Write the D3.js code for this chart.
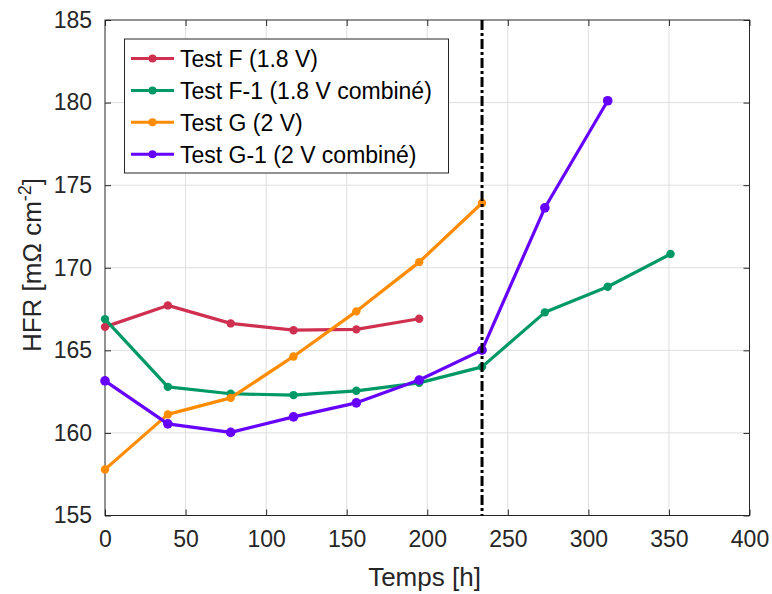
<!DOCTYPE html>
<html><head><meta charset="utf-8">
<script src="https://cdn.jsdelivr.net/npm/d3@7"></script>
<style>body{margin:0;background:#fff}svg{display:block}text{font-family:"Liberation Sans",Arial,sans-serif}</style>
</head><body>
<svg id="c" width="772" height="594"></svg>
<script>
const hours = [0, 39, 78, 117, 156, 195, 234, 273, 312, 351];
const testF   = [166.42, 167.72, 166.63, 166.22, 166.27, 166.91];
const testF1  = [166.89, 162.79, 162.37, 162.29, 162.55, 163.03, 164.0, 167.30, 168.85, 170.83];
const testG   = [157.79, 161.12, 162.12, 164.63, 167.36, 170.34, 173.92];
const testG1  = [163.15, 160.55, 160.03, 160.97, 161.82, 163.2, 165.01, 173.63, 180.11];
const seriesNames = ["Test F (1.8 V)", "Test F-1 (1.8 V combiné)", "Test G (2 V)", "Test G-1 (2 V combiné)"];
const seriesColors = ["#d0304f", "#009966", "#ff8c00", "#6600ff"];
const xTicks = [0, 50, 100, 150, 200, 250, 300, 350, 400];
const yTicks = [155, 160, 165, 170, 175, 180, 185];
const vLine = 234;

const svg = d3.select("#c");
const L = 105, R = 749.5, T = 20, B = 515.5;
const x = d3.scaleLinear().domain([0, 400]).range([L, R]);
const y = d3.scaleLinear().domain([155, 185]).range([B, T]);
const axisCol = "#262626";

// grid
svg.append("g").selectAll("line").data(xTicks.slice(1, -1)).join("line")
  .attr("x1", d => x(d)).attr("x2", d => x(d)).attr("y1", T).attr("y2", B)
  .attr("stroke", "#dedede").attr("stroke-width", 1);
svg.append("g").selectAll("line").data(yTicks.slice(1, -1)).join("line")
  .attr("y1", d => y(d)).attr("y2", d => y(d)).attr("x1", L).attr("x2", R)
  .attr("stroke", "#dedede").attr("stroke-width", 1);

// axes
const ax = (g, a) => { g.call(a); g.select(".domain").remove(); g.selectAll(".tick line").attr("stroke", axisCol); };
svg.append("g").attr("transform", `translate(0,${B})`)
  .call(g => ax(g, d3.axisBottom(x).tickValues(xTicks).tickSizeInner(-6).tickSizeOuter(0).tickPadding(15)))
  .selectAll("text").attr("font-size", 23).attr("fill", axisCol);
svg.append("g").attr("transform", `translate(0,${T})`)
  .call(g => ax(g, d3.axisTop(x).tickValues(xTicks).tickSizeInner(-6).tickSizeOuter(0)))
  .selectAll("text").remove();
svg.append("g").attr("transform", `translate(${L},0)`)
  .call(g => ax(g, d3.axisLeft(y).tickValues(yTicks).tickSizeInner(-6).tickSizeOuter(0).tickPadding(13)))
  .selectAll("text").attr("font-size", 23).attr("fill", axisCol);
svg.append("g").attr("transform", `translate(${R},0)`)
  .call(g => ax(g, d3.axisRight(y).tickValues(yTicks).tickSizeInner(-6).tickSizeOuter(0)))
  .selectAll("text").remove();
svg.append("rect").attr("x", L).attr("y", T).attr("width", R - L).attr("height", B - T)
  .attr("fill", "none").attr("stroke", axisCol).attr("stroke-width", 1);

// series
const allSeries = [testF, testF1, testG, testG1];
const line = d3.line().x((d, i) => x(hours[i])).y(d => y(d));
allSeries.forEach((s, k) => {
  const g = svg.append("g");
  g.append("path").datum(s).attr("d", line).attr("fill", "none")
    .attr("stroke", seriesColors[k]).attr("stroke-width", 3.2).attr("stroke-linejoin", "round");
  g.selectAll("circle").data(s).join("circle")
    .attr("cx", (d, i) => x(hours[i])).attr("cy", d => y(d)).attr("r", k === 3 ? 4.8 : 4.2)
    .attr("fill", seriesColors[k]);
});

// vertical dash-dot line
svg.append("line").attr("x1", x(vLine)).attr("x2", x(vLine)).attr("y1", T).attr("y2", B)
  .attr("stroke", "#000").attr("stroke-width", 3).attr("stroke-dasharray", "10,3,3,3");

// legend
const lg = svg.append("g");
lg.append("rect").attr("x", 124.5).attr("y", 39).attr("width", 324).attr("height", 134)
  .attr("fill", "#fff").attr("stroke", axisCol).attr("stroke-width", 1);
seriesNames.forEach((n, k) => {
  const cy = 58.5 + k * 31.9;
  lg.append("line").attr("x1", 131).attr("x2", 174).attr("y1", cy).attr("y2", cy)
    .attr("stroke", seriesColors[k]).attr("stroke-width", 3);
  lg.append("circle").attr("cx", 152.5).attr("cy", cy).attr("r", 4).attr("fill", seriesColors[k]);
  lg.append("text").attr("x", 180).attr("y", cy + 8.3).attr("font-size", 23).attr("fill", "#000").text(n);
});

// axis labels
svg.append("text").attr("x", (364 + 485) / 2).attr("y", 586).attr("text-anchor", "middle")
  .attr("font-size", 26).attr("fill", axisCol).text("Temps [h]");
const yl = svg.append("text").attr("transform", `translate(41,265) rotate(-90)`)
  .attr("text-anchor", "middle").attr("font-size", 26).attr("fill", axisCol);
yl.append("tspan").text("HFR [mΩ cm");
yl.append("tspan").attr("dy", -10).attr("font-size", 18).text("-2");
yl.append("tspan").attr("dy", 10).text("]");
</script>
</body></html>
